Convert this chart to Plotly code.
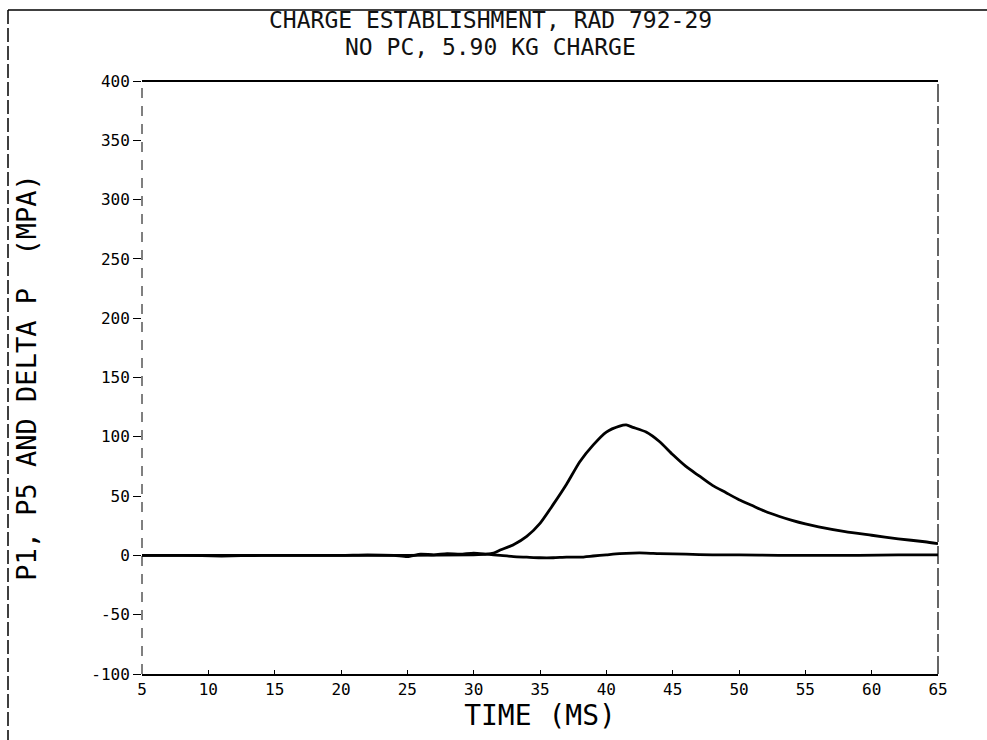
import plotly.graph_objects as go

# Time base (ms) and pressure traces (MPa)
t_p1 = [5, 10, 15, 20, 25, 30, 31, 31.5, 32, 33, 34, 35, 36, 37, 38, 39, 40, 41,
        41.5, 42, 43, 44, 45, 46, 47, 48, 49, 50, 51, 52, 53, 54, 55, 56, 58, 60, 62, 64, 65]
p1 = [0, 0, 0, 0, 0, 0.5, 1, 2, 4.5, 9, 16, 27, 43, 60, 79, 93, 104, 109,
      110, 108, 104, 96, 85, 75, 67, 59, 53, 47, 42, 37, 33, 29.5, 26.5, 24, 20, 17, 14, 11.5, 10]

t_p5 = [5, 8, 11, 14, 17, 20, 22, 24, 25, 26, 27, 28, 29, 30, 31, 32, 33, 34, 35,
        36, 37, 38, 39, 40, 41, 42, 43, 44, 46, 48, 50, 53, 56, 59, 62, 65]
p5 = [0, 0, -0.5, 0, 0, 0, 0.5, 0, -1, 1, 0.5, 1.5, 1, 2, 1, 0, -1, -1.5, -2,
      -2, -1.5, -1.5, -0.5, 0.5, 1.5, 2, 2, 1.5, 1, 0.5, 0.5, 0, 0, 0, 0.5, 0.5]

x_ticks = [5, 10, 15, 20, 25, 30, 35, 40, 45, 50, 55, 60, 65]
y_ticks = [-100, -50, 0, 50, 100, 150, 200, 250, 300, 350, 400]

title_lines = ["CHARGE ESTABLISHMENT, RAD 792-29", "NO PC, 5.90 KG CHARGE"]

FONT = "DejaVu Sans Mono"

fig = go.Figure()
fig.add_trace(go.Scatter(x=t_p5, y=p5, mode="lines",
                         line=dict(color="black", width=2.8, shape="spline", smoothing=0.6),
                         name="P5"))
fig.add_trace(go.Scatter(x=t_p1, y=p1, mode="lines",
                         line=dict(color="black", width=2.8, shape="spline", smoothing=0.6),
                         name="P1"))

W, H = 987, 740
L, R, T, B = 142, 49, 81, 66
pw, ph = W - L - R, H - T - B

def px(x):
    return (x - L) / pw

def py(y):
    return (H - B - y) / ph

shapes = [
    # page border (left and top)
    dict(type="line", xref="paper", yref="paper", x0=px(8), x1=px(8), y0=py(10), y1=py(740),
         line=dict(color="black", width=1.5, dash="14px,4px")),
    dict(type="line", xref="paper", yref="paper", x0=px(8), x1=px(987), y0=py(10), y1=py(10),
         line=dict(color="black", width=1.5)),
    # plot frame: top, left, right
    dict(type="line", xref="paper", yref="paper", x0=0, x1=1, y0=1, y1=1,
         line=dict(color="black", width=1.8)),
    dict(type="line", xref="paper", yref="paper", x0=0, x1=0, y0=0, y1=1,
         line=dict(color="black", width=1, dash="10px,8px")),
    dict(type="line", xref="paper", yref="paper", x0=1, x1=1, y0=0, y1=1,
         line=dict(color="black", width=1.2, dash="18px,4px")),
]

annotations = [
    dict(text=title_lines[0], xref="paper", yref="paper", x=px(490), y=py(20),
         xanchor="center", yanchor="middle", showarrow=False,
         font=dict(family=FONT, size=23, color="#111111")),
    dict(text=title_lines[1], xref="paper", yref="paper", x=px(490), y=py(47),
         xanchor="center", yanchor="middle", showarrow=False,
         font=dict(family=FONT, size=23, color="#111111")),
]

fig.update_layout(
    width=W, height=H,
    margin=dict(l=L, r=R, t=T, b=B),
    paper_bgcolor="white", plot_bgcolor="white",
    showlegend=False,
    shapes=shapes,
    annotations=annotations,
    font=dict(family=FONT, color="black"),
    xaxis=dict(range=[5, 65], tickvals=x_ticks, ticktext=[str(v) for v in x_ticks],
               ticks="inside", ticklen=4, tickcolor="black",
               showline=True, linecolor="black", linewidth=2,
               showgrid=False, zeroline=False,
               tickfont=dict(family=FONT, size=16),
               title=dict(text="TIME (MS)", font=dict(family=FONT, size=28), standoff=2)),
    yaxis=dict(range=[-100, 400], tickvals=y_ticks, ticktext=[str(v) for v in y_ticks],
               ticks="outside", ticklen=8, tickcolor="black",
               showline=False, showgrid=False, zeroline=False,
               tickfont=dict(family=FONT, size=16),
               title=dict(text="P1, P5 AND DELTA P  (MPA)",
                          font=dict(family=FONT, size=27), standoff=46)),
)

fig.write_html("out.html")
